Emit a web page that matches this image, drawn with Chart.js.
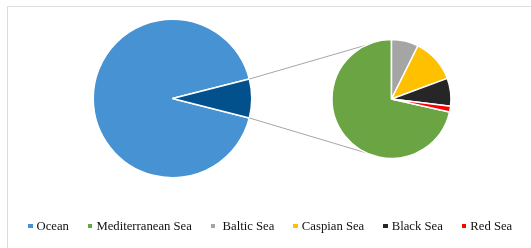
<!DOCTYPE html>
<html>
<head>
<meta charset="utf-8">
<script src="https://cdn.jsdelivr.net/npm/chart.js@4/dist/chart.umd.min.js"></script>
<style>
  body { margin: 0; background: #fff; }
  #wrap { position: relative; width: 531px; height: 248px; overflow: hidden; background: #fff; }
  #frame { position: absolute; left: 7px; top: 6px; width: 600px; height: 300px;
           border-left: 1px solid #dcdcdc; border-top: 1px solid #dcdcdc; }
  canvas { position: absolute; left: 0; top: 0; }
  #legend { position: absolute; left: 28px; top: 219px; display: flex; white-space: pre;
            font-family: "Liberation Serif", "Times New Roman", serif; font-size: 12.7px;
            line-height: 14px; color: #111; }
  #legend .item { display: flex; align-items: center; margin-right: 19px; }
  #legend .box { width: 4.5px; height: 4.5px; margin-right: 4px; }
</style>
</head>
<body>
<div id="wrap">
  <div id="frame"></div>
  <canvas id="mainPie" width="531" height="248"></canvas>
  <canvas id="subPie" width="531" height="248"></canvas>
  <div id="legend"></div>
</div>
<script>
// ---- datos (porcentaje del total) ----
const oceanLabel  = 'Ocean';
const oceanValue  = 92.1;
const seaLabels   = ['Mediterranean Sea', ' Baltic Sea', 'Caspian Sea', 'Black Sea', 'Red Sea'];
const seaValues   = [5.65, 0.58, 0.95, 0.60, 0.12];

const oceanColor  = '#4692d2';
const seasColor   = '#02518c';
const seaColors   = ['#6aa443', '#a5a5a5', '#ffc000', '#262626', '#ff0000'];

const seasTotal = seaValues.reduce((a, b) => a + b, 0);
const seasDeg   = seasTotal / (oceanValue + seasTotal) * 360;
const medDeg    = seaValues[0] / seasTotal * 360;

// Pie principal: la porción "seas" centrada a la derecha
const mainChart = new Chart(document.getElementById('mainPie'), {
    type: 'pie',
    data: {
        labels: [oceanLabel, 'Seas'],
        datasets: [{
            data: [oceanValue, seasTotal],
            backgroundColor: [oceanColor, seasColor],
            borderColor: '#ffffff',
            borderWidth: 1.5
        }]
    },
    options: {
        responsive: false,
        animation: false,
        rotation: 90 + seasDeg / 2,
        layout: { padding: { left: 92.5, right: 278.5, top: 18.5, bottom: 69.5 } },
        plugins: { legend: { display: false }, tooltip: { enabled: false } },
        events: []
    }
});

// Líneas de conexión entre la porción y el pie secundario
const connectorPlugin = {
    id: 'connectors',
    beforeDatasetsDraw(chart) {
        const src = mainChart.getDatasetMeta(0).data[1];
        const dst = chart.getDatasetMeta(0).data[0];
        if (!src || !dst) return;
        const ctx = chart.ctx;
        const R = src.outerRadius, r = dst.outerRadius;
        const a = 115 * Math.PI / 180;
        ctx.save();
        ctx.strokeStyle = '#a6a6a6';
        ctx.lineWidth = 1;
        ctx.beginPath();
        ctx.moveTo(src.x + R * Math.cos(src.startAngle), src.y + R * Math.sin(src.startAngle));
        ctx.lineTo(dst.x + r * Math.cos(-a), dst.y + r * Math.sin(-a));
        ctx.moveTo(src.x + R * Math.cos(src.endAngle), src.y + R * Math.sin(src.endAngle));
        ctx.lineTo(dst.x + r * Math.cos(a), dst.y + r * Math.sin(a));
        ctx.stroke();
        ctx.restore();
    }
};

new Chart(document.getElementById('subPie'), {
    type: 'pie',
    data: {
        labels: seaLabels,
        datasets: [{
            data: seaValues,
            backgroundColor: seaColors,
            borderColor: '#ffffff',
            borderWidth: 1.5
        }]
    },
    options: {
        responsive: false,
        animation: false,
        rotation: 360 - medDeg,
        layout: { padding: { left: 331.25, right: 79.25, top: 38.75, bottom: 88.75 } },
        plugins: { legend: { display: false }, tooltip: { enabled: false } },
        events: []
    },
    plugins: [connectorPlugin]
});

// Leyenda
const legendEl = document.getElementById('legend');
[oceanLabel, ...seaLabels].forEach((lbl, i) => {
    const item = document.createElement('div');
    item.className = 'item';
    const box = document.createElement('span');
    box.className = 'box';
    box.style.background = i === 0 ? oceanColor : seaColors[i - 1];
    const txt = document.createElement('span');
    txt.textContent = lbl;
    item.appendChild(box);
    item.appendChild(txt);
    legendEl.appendChild(item);
});
</script>
</body>
</html>
